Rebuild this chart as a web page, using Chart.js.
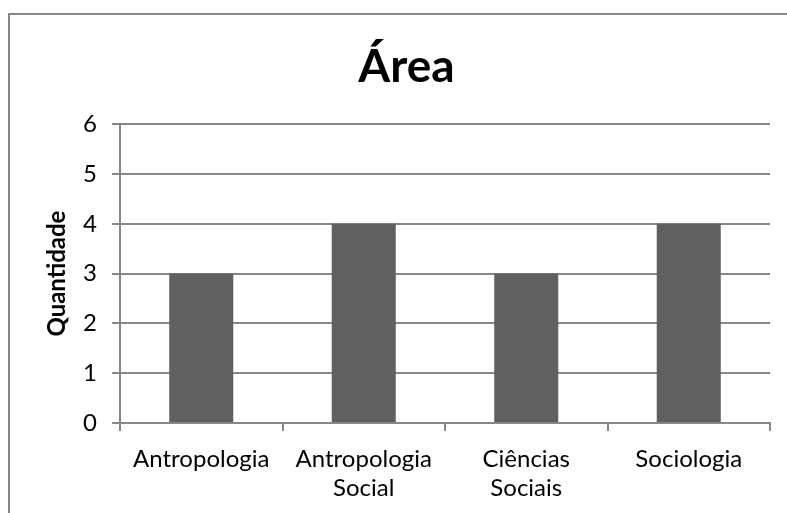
<!DOCTYPE html>
<html>
<head>
<meta charset="utf-8">
<script src="https://cdn.jsdelivr.net/npm/chart.js@4"></script>
<style>
    html, body { margin: 0; padding: 0; background: #fff; overflow: hidden; }
    .frame {
        position: absolute; left: 8px; top: 13px;
        width: 800px; height: 520px;
        border: 2px solid #878787;
    }
    .box { position: absolute; left: 0; top: 0; width: 777px; height: 498px; }
</style>
</head>
<body>
<div class="frame">
    <div class="box"><canvas id="areaChart"></canvas></div>
</div>
<script>
const categories = [['Antropologia'], ['Antropologia', 'Social'], ['Ciências', 'Sociais'], ['Sociologia']];
const quantidade = [3, 4, 3, 4];
const yTicks = [0, 1, 2, 3, 4, 5, 6];

const fontFamily = 'Lato, "Open Sans", sans-serif';
const lineColor = '#878787';

document.addEventListener('DOMContentLoaded', () => {
    const ctx = document.getElementById('areaChart').getContext('2d');
    new Chart(ctx, {
        type: 'bar',
        data: {
            labels: categories,
            datasets: [{
                label: 'Quantidade',
                data: quantidade,
                backgroundColor: '#606060',
                borderWidth: 0,
                categoryPercentage: 1,
                barPercentage: 0.394
            }]
        },
        options: {
            responsive: true,
            maintainAspectRatio: false,
            animation: false,
            // left padding pushes the title centre right, like the original
            layout: { padding: { left: 33, right: 17, top: 0, bottom: 0 } },
            plugins: {
                legend: { display: false },
                tooltip: { enabled: false },
                title: {
                    display: true,
                    text: 'Área',
                    color: '#000',
                    font: { family: fontFamily, size: 46, weight: 'bold' },
                    padding: { top: 25, bottom: 29 }
                }
            },
            scales: {
                y: {
                    min: 0,
                    max: 6,
                    afterBuildTicks: scale => { scale.ticks = yTicks.map(v => ({ value: v })); },
                    afterFit: scale => { scale.width = 77; },
                    grid: { color: lineColor, lineWidth: 2, tickLength: 8 },
                    border: { color: lineColor, width: 2 },
                    ticks: { color: '#000', padding: 15, font: { family: fontFamily, size: 24 } },
                    title: {
                        display: true,
                        text: 'Quantidade',
                        color: '#000',
                        font: { family: fontFamily, size: 24, weight: 'bold' },
                        padding: { top: 0, bottom: 0 }
                    }
                },
                x: {
                    offset: true,
                    afterFit: scale => { scale.height = 90; },
                    grid: { offset: true, drawOnChartArea: false, color: lineColor, lineWidth: 2, tickLength: 8 },
                    border: { color: lineColor, width: 2 },
                    ticks: { color: '#000', padding: 14, maxRotation: 0, font: { family: fontFamily, size: 24, lineHeight: 1.2 } }
                }
            }
        }
    });
});
</script>
</body>
</html>
